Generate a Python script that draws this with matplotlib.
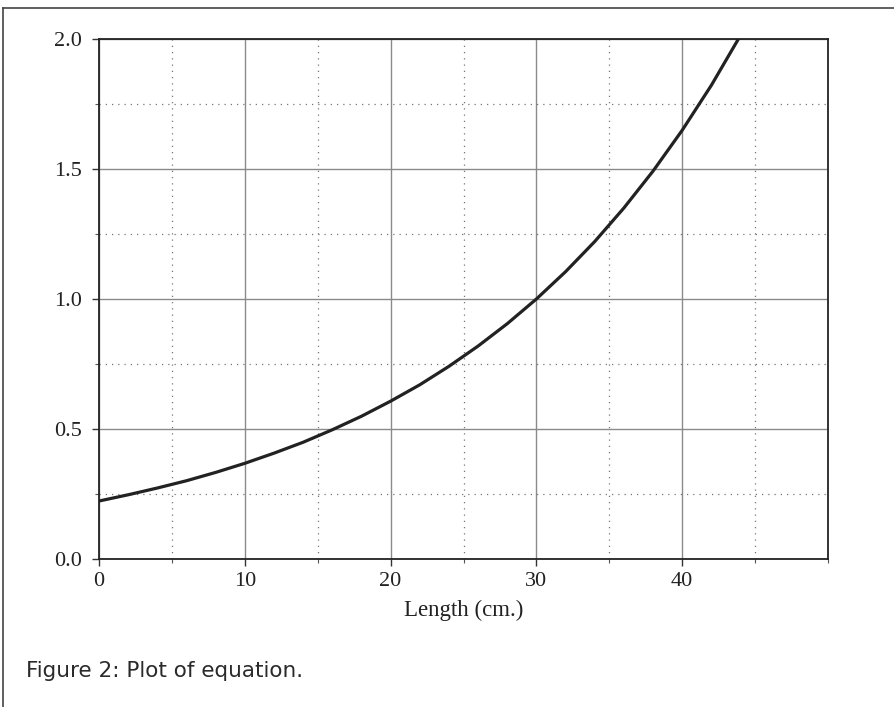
import matplotlib
matplotlib.use("Agg")
import matplotlib.pyplot as plt
from matplotlib.lines import Line2D
from matplotlib.ticker import MultipleLocator

# Values
length_cm = [0, 2, 4, 6, 8, 10, 12, 14, 16, 18, 20, 22, 24, 26, 28, 30,
             32, 34, 36, 38, 40, 42, 44]
values = [0.223, 0.247, 0.273, 0.301, 0.333, 0.368, 0.407, 0.449, 0.497,
          0.549, 0.607, 0.670, 0.741, 0.819, 0.905, 1.000, 1.105, 1.221,
          1.350, 1.492, 1.649, 1.822, 2.014]
x_ticks = [0, 10, 20, 30, 40]
x_tick_labels = ["0", "10", "20", "30", "40"]
y_ticks = [0.0, 0.5, 1.0, 1.5, 2.0]
y_tick_labels = ["0.0", "0.5", "1.0", "1.5", "2.0"]
x_label = "Length (cm.)"
caption = "Figure 2: Plot of equation."

W, H = 894, 707
fig = plt.figure(figsize=(W / 100, H / 100), dpi=100)
left, right, top, bottom = 99, 828, 39, 559
ax = fig.add_axes([left / W, 1 - bottom / H, (right - left) / W, (bottom - top) / H])

ax.plot(length_cm, values, color="#222222", lw=2.3, solid_capstyle="butt", zorder=3)
ax.set_xlim(0, 50)
ax.set_ylim(0, 2.0)

serif = ["Liberation Serif", "DejaVu Serif"]
ax.set_xticks(x_ticks)
ax.set_xticklabels(x_tick_labels, fontfamily=serif, fontsize=16, color="#222222")
ax.set_yticks(y_ticks)
ax.set_yticklabels(y_tick_labels, fontfamily=serif, fontsize=16, color="#222222")
ax.xaxis.set_minor_locator(MultipleLocator(5))
ax.yaxis.set_minor_locator(MultipleLocator(0.25))
ax.tick_params(which="major", direction="out", length=5, width=1, color="#333333")
ax.tick_params(axis="x", which="major", pad=4)
ax.tick_params(axis="y", which="major", pad=7)
ax.tick_params(which="minor", direction="out", length=3, width=0.8, color="#555555")

ax.grid(which="major", color="#8a8a8a", lw=1.0, ls="-", zorder=1)
ax.grid(which="minor", color="#777777", lw=0.9, ls=(0, (1, 4)), zorder=1)
ax.set_axisbelow(True)

for s in ax.spines.values():
    s.set_color("#222222")
    s.set_linewidth(1.3)

ax.set_xlabel(x_label, fontfamily=serif, fontsize=16.5, color="#222222", labelpad=7)

fig.text(26 / W, 1 - 677 / H, caption, fontfamily=["DejaVu Sans"],
         fontsize=15.5, color="#2a2a2a", va="baseline", ha="left")

# page frame lines
fig.add_artist(Line2D([3 / W, 1.0], [1 - 8 / H, 1 - 8 / H], transform=fig.transFigure,
                      color="#444444", lw=1.2))
fig.add_artist(Line2D([3 / W, 3 / W], [1 - 8 / H, 0.0], transform=fig.transFigure,
                      color="#444444", lw=1.2))

fig.savefig("out.png", dpi=100)
